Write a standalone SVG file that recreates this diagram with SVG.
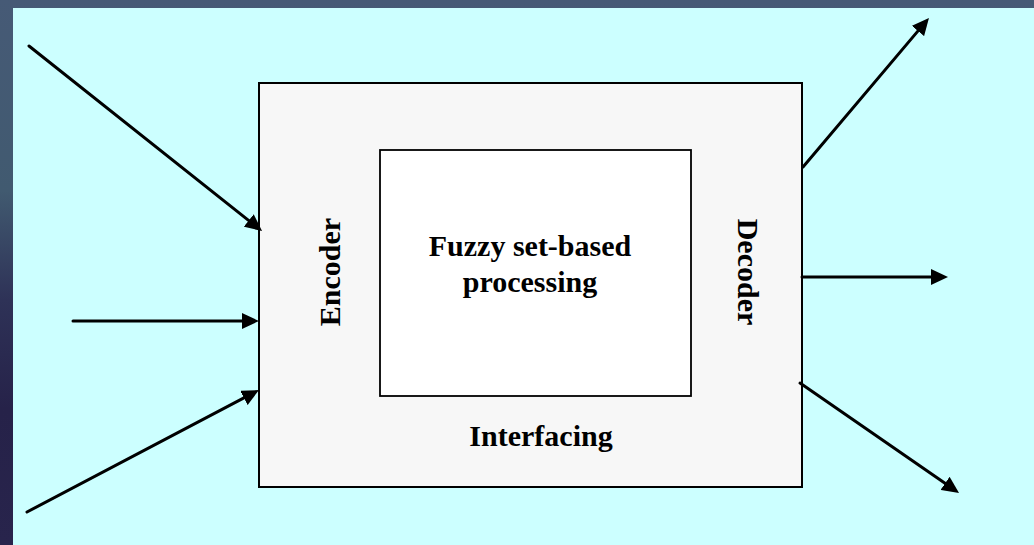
<svg xmlns="http://www.w3.org/2000/svg" width="1034" height="545" viewBox="0 0 1034 545">
  <defs>
    <linearGradient id="slideBg" x1="0" y1="0" x2="0" y2="1">
      <stop offset="0" stop-color="#465a76"/>
      <stop offset="0.35" stop-color="#415a70"/>
      <stop offset="0.55" stop-color="#2e3257"/>
      <stop offset="0.75" stop-color="#262249"/>
      <stop offset="1" stop-color="#28244c"/>
    </linearGradient>
    <marker id="head" markerUnits="userSpaceOnUse" markerWidth="17" markerHeight="16" refX="7" refY="8" orient="auto">
      <path d="M0,0 L17,8 L0,16 Z" fill="#000"/>
    </marker>
    <style>
      .label { font-family: "Liberation Serif", "Times New Roman", serif; font-weight: bold; font-size: 30px; fill: #000; }
      .arrow { stroke: #000; stroke-width: 3; stroke-linecap: round; fill: none; marker-end: url(#head); }
      .frame { fill: #f7f7f7; stroke: #000; stroke-width: 2; }
      .core { fill: #ffffff; stroke: #000; stroke-width: 1.8; }
    </style>
  </defs>

  <!-- slide backdrop and panel -->
  <rect x="0" y="0" width="1034" height="545" fill="url(#slideBg)"/>
  <rect x="13" y="8" width="1021" height="537" fill="#ccffff"/>

  <!-- interfacing frame with encoder / decoder labels -->
  <g id="interfacing">
    <rect class="frame" x="259" y="83" width="543" height="404"/>
    <text class="label" x="541" y="446" text-anchor="middle">Interfacing</text>
  </g>
  <g id="encoder">
    <text class="label" transform="translate(340,272) rotate(-90)" text-anchor="middle">Encoder</text>
  </g>
  <g id="decoder">
    <text class="label" transform="translate(738,272) rotate(90)" text-anchor="middle">Decoder</text>
  </g>

  <!-- central processing block -->
  <g id="processing">
    <rect class="core" x="380" y="150" width="311" height="246"/>
    <text class="label" x="530" y="256" text-anchor="middle">Fuzzy set-based</text>
    <text class="label" x="530" y="292" text-anchor="middle">processing</text>
  </g>

  <!-- inputs and outputs -->
  <g id="connectors">
    <line class="arrow" x1="29" y1="46" x2="254.2" y2="224.8"/>
    <line class="arrow" x1="73" y1="321" x2="249" y2="321"/>
    <line class="arrow" x1="27" y1="512" x2="250.1" y2="394.7"/>
    <line class="arrow" x1="803" y1="167" x2="922.5" y2="25.6"/>
    <line class="arrow" x1="802" y1="277" x2="938" y2="277"/>
    <line class="arrow" x1="800" y1="383" x2="950.8" y2="487.3"/>
  </g>
</svg>
